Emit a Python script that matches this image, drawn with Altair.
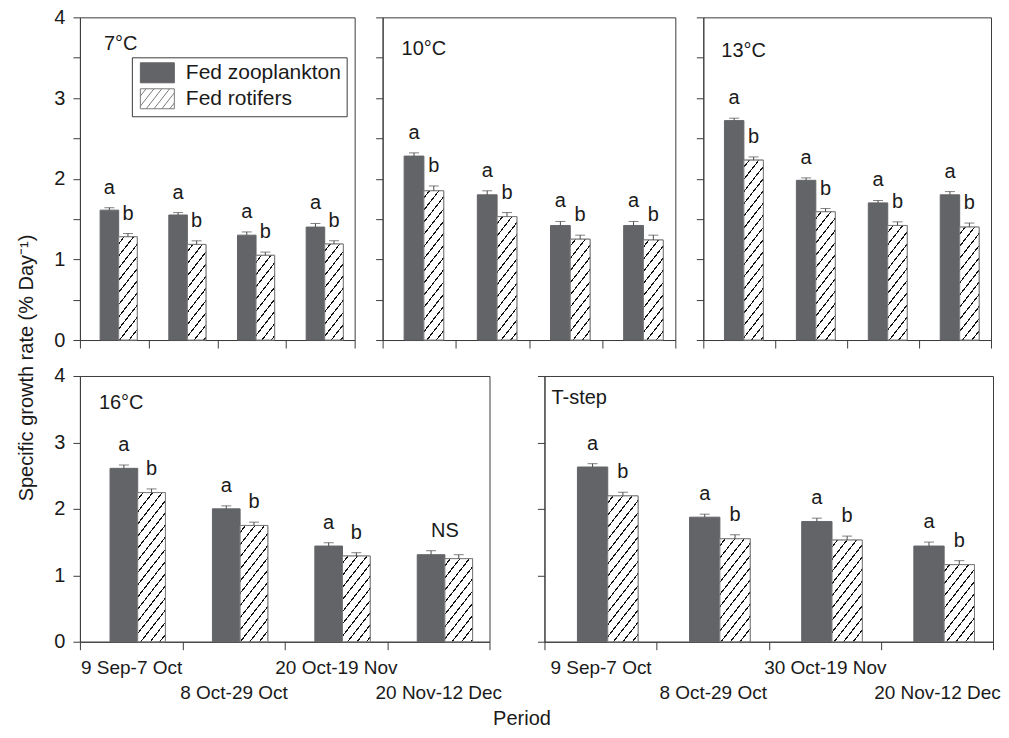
import math
import json
import altair as alt
import pandas as pd

# ---------------- data ----------------
series = ["Fed zooplankton", "Fed rotifers"]
periods_const = ["9 Sep-7 Oct", "8 Oct-29 Oct", "20 Oct-19 Nov", "20 Nov-12 Dec"]
periods_step = ["9 Sep-7 Oct", "8 Oct-29 Oct", "30 Oct-19 Nov", "20 Nov-12 Dec"]

zoo_7 = [1.61, 1.55, 1.30, 1.40]
zoo_7_se = [0.03, 0.03, 0.04, 0.045]
rot_7 = [1.28, 1.185, 1.05, 1.19]
rot_7_se = [0.04, 0.045, 0.04, 0.04]

zoo_10 = [2.28, 1.80, 1.42, 1.42]
zoo_10_se = [0.04, 0.05, 0.05, 0.05]
rot_10 = [1.85, 1.53, 1.25, 1.24]
rot_10_se = [0.06, 0.05, 0.05, 0.06]

zoo_13 = [2.72, 1.98, 1.70, 1.80]
zoo_13_se = [0.03, 0.03, 0.03, 0.04]
rot_13 = [2.23, 1.59, 1.42, 1.40]
rot_13_se = [0.04, 0.04, 0.045, 0.05]

zoo_16 = [2.61, 2.00, 1.44, 1.31]
zoo_16_se = [0.05, 0.045, 0.05, 0.06]
rot_16 = [2.245, 1.75, 1.29, 1.25]
rot_16_se = [0.055, 0.05, 0.05, 0.06]

zoo_ts = [2.63, 1.875, 1.81, 1.44]
zoo_ts_se = [0.05, 0.045, 0.05, 0.06]
rot_ts = [2.195, 1.55, 1.53, 1.16]
rot_ts_se = [0.055, 0.06, 0.06, 0.06]

let_zoo = ["a", "a", "a", "a"]
let_rot = ["b", "b", "b", "b"]
let_zoo_16 = ["a", "a", "a", ""]
let_rot_16 = ["b", "b", "b", ""]
grp_none = ["", "", "", ""]
grp_16 = ["", "", "", "NS"]

y_ticks = [0, 0.5, 1, 1.5, 2, 2.5, 3, 3.5, 4]

# ---------------- style ----------------
FONT = "Liberation Sans"
TEXT = "#1a1a1a"
AXIS = "#3c3c3c"
DARK = "#636467"
EDGE = "#7a7a7a"
ERR = "#4a4a4a"
OUTER = 0.85
ALIGN = 0.64

# hatch gradient parameters (pixels)
THETA = math.radians(52)
NX, NY = math.sin(THETA), math.cos(THETA)
L = 300.0
PERIOD = 7.5
LW = 1.1


def hatch_stops():
    stops = [{"offset": 0, "color": "#ffffff"}]
    k = 0
    while True:
        a = (k * PERIOD + PERIOD / 2) / L
        b = a + LW / L
        if b >= 1:
            break
        stops += [
            {"offset": round(a, 5), "color": "#ffffff"},
            {"offset": round(a, 5), "color": "#111111"},
            {"offset": round(b, 5), "color": "#111111"},
            {"offset": round(b, 5), "color": "#ffffff"},
        ]
        k += 1
    stops.append({"offset": 1, "color": "#ffffff"})
    return "[" + ",".join("{offset:%s,color:'%s'}" % (s["offset"], s["color"]) for s in stops) + "]"


STOPS = hatch_stops()


def hatch_expr(w, pxu):
    A = NX * NX * w * w
    B = NY * NY * pxu * pxu
    den = f"({A}+{B}*datum.value*datum.value)"
    return (
        "{gradient:'linear',x1:0,y1:0,"
        f"x2:{L * NX * w}/{den},"
        f"y2:{L * NY * pxu}*datum.value/{den},"
        f"stops:{STOPS}}}"
    )


def legend_path():
    x0, x1, y0, y1 = -0.7, 2.7, -1.0, 1.0
    parts = [f"M{x0},{y0}H{x1}V{y1}H{x0}Z"]
    cmin = NX * x0 + NY * y0
    cmax = NX * x1 + NY * y1
    c = cmin + 0.45
    while c < cmax - 0.2:
        pts = []
        for x in (x0, x1):
            y = (c - NX * x) / NY
            if y0 - 1e-9 <= y <= y1 + 1e-9:
                pts.append((x, y))
        for y in (y0, y1):
            x = (c - NY * y) / NX
            if x0 - 1e-9 <= x <= x1 + 1e-9:
                pts.append((x, y))
        uniq = []
        for p in pts:
            if all(abs(p[0] - q[0]) > 1e-6 or abs(p[1] - q[1]) > 1e-6 for q in uniq):
                uniq.append(p)
        if len(uniq) >= 2:
            (ax, ay), (bx, by) = uniq[0], uniq[1]
            parts.append(f"M{ax:.3f},{ay:.3f}L{bx:.3f},{by:.3f}")
        c += 0.62
    return "".join(parts)


def make_panel(name, periods, zoo, zoo_se, rot, rot_se, lz, lr, grp, W, H,
               ylabels, xlabels, lab_x, lab_y, legend=False, xtitle=False):
    n = len(periods)
    df = pd.DataFrame({
        "period": periods + periods,
        "series": [series[0]] * n + [series[1]] * n,
        "value": zoo + rot,
        "se": zoo_se + rot_se,
        "letter": lz + lr,
        "group": grp + grp,
    })
    step = W / n
    barw = step / (2 + 2 * OUTER)
    pxu = H / 4.0

    second_row = json.dumps(periods[1::2])
    xaxis_kw = dict(
        tickBand="extent", tickSize=8, labels=xlabels, labelAngle=0,
        labelFontSize=19, labelBaseline="top", labelLineHeight=25,
        labelPadding=9, labelOverlap=False, labelFlush=False, labelBound=False,
        labelExpr=f"indexof({second_row}, datum.label) >= 0 ? ['', datum.label] : datum.label",
        domainColor=AXIS, tickColor=AXIS, labelColor=TEXT, grid=False,
    )
    if xtitle:
        xaxis_kw.update(title="Period", titleX=442, titleY=83, titleBaseline="alphabetic",
                        titleAlign="center", titleFontSize=20, titleFontWeight="normal",
                        titleColor=TEXT)
    else:
        xaxis_kw.update(title=None)
    yaxis_kw = dict(
        values=y_ticks, tickSize=7, labels=ylabels, labelPadding=8, labelFontSize=20,
        labelExpr="datum.value % 1 == 0 ? format(datum.value, 'd') : ''",
        domainColor=AXIS, tickColor=AXIS, labelColor=TEXT, grid=False, title=None,
    )

    xenc = alt.X("period:N", sort=periods,
                 scale=alt.Scale(domain=periods, paddingInner=0, paddingOuter=0),
                 axis=alt.Axis(**xaxis_kw))
    xoff = alt.XOffset("series:N", sort=series,
                       scale=alt.Scale(domain=series, paddingInner=0, paddingOuter=OUTER, align=ALIGN))
    yscale = alt.Scale(domain=[0, 4], nice=False)
    yenc = alt.Y("value:Q", scale=yscale, axis=alt.Axis(**yaxis_kw))

    if legend:
        leg = alt.Legend(title=None, orient="none", legendX=52, legendY=40,
                         symbolType=legend_path(), symbolSize=400, symbolStrokeWidth=1,
                         labelFontSize=21, labelColor=TEXT, labelOffset=28,
                         rowPadding=1, padding=5, strokeColor=AXIS, fillColor="white")
    else:
        leg = None

    base = alt.Chart(df).transform_calculate(hi="datum.value + datum.se")

    bars = base.mark_bar(strokeWidth=1).encode(
        x=xenc, xOffset=xoff, y=yenc,
        fill=alt.Fill("series:N", scale=alt.Scale(domain=series, range=[DARK, "#ffffff"]), legend=leg),
        stroke=alt.Stroke("series:N", scale=alt.Scale(domain=series, range=[DARK, EDGE]), legend=leg),
    )
    hatch = base.transform_filter(alt.datum.series == series[1]).mark_bar(
        stroke=EDGE, strokeWidth=1
    ).encode(
        x=xenc, xOffset=xoff, y=alt.Y("value:Q", scale=yscale),
        fill={"value": {"expr": hatch_expr(barw, pxu)}},
    )
    err = base.mark_rule(color=ERR, strokeWidth=1).encode(
        x=xenc, xOffset=xoff, y=alt.Y("value:Q", scale=yscale), y2="hi:Q",
    )
    cap = base.mark_tick(color=ERR, thickness=1, size=10, orient="horizontal").encode(
        x=xenc, xOffset=xoff, y=alt.Y("hi:Q", scale=yscale),
    )
    letters = base.transform_filter(alt.datum.letter != "").mark_text(
        font=FONT, fontSize=20, color=TEXT, baseline="alphabetic", dy=-14
    ).encode(
        x=xenc, xOffset=xoff, y=alt.Y("hi:Q", scale=yscale), text="letter:N",
    )
    ns = base.transform_joinaggregate(top="max(hi)", groupby=["period"]).transform_filter(
        (alt.datum.series == series[0]) & (alt.datum.group != "")
    ).mark_text(
        font=FONT, fontSize=20, color=TEXT, baseline="alphabetic", dy=-14, xOffset=0.064 * step
    ).encode(
        x=xenc, y=alt.Y("top:Q", scale=yscale), text="group:N",
    )
    label = alt.Chart(pd.DataFrame({"name": [name]})).mark_text(
        font=FONT, fontSize=20, color=TEXT, align="left", baseline="alphabetic"
    ).encode(x=alt.value(lab_x), y=alt.value(lab_y), text="name:N")

    return alt.layer(bars, hatch, err, cap, letters, ns, label).properties(width=W, height=H)


p7 = make_panel("7°C", periods_const, zoo_7, zoo_7_se, rot_7, rot_7_se, let_zoo, let_rot, grp_none,
                275, 323, True, False, 24, 33, legend=True)
p10 = make_panel("10°C", periods_const, zoo_10, zoo_10_se, rot_10, rot_10_se, let_zoo, let_rot, grp_none,
                 293, 323, False, False, 19, 38)
p13 = make_panel("13°C", periods_const, zoo_13, zoo_13_se, rot_13, rot_13_se, let_zoo, let_rot, grp_none,
                 288, 323, False, False, 18, 40)
p16 = make_panel("16°C", periods_const, zoo_16, zoo_16_se, rot_16, rot_16_se, let_zoo_16, let_rot_16, grp_16,
                 410, 266, True, True, 19, 33, xtitle=True)
pts = make_panel("T-step", periods_step, zoo_ts, zoo_ts_se, rot_ts, rot_ts_se, let_zoo, let_rot, grp_none,
                 449, 266, False, True, 7, 28)

res = dict(fill="independent", stroke="independent", x="independent", y="independent", xOffset="independent")
top = alt.hconcat(p7, p10, p13, spacing=28, bounds="flush").resolve_scale(**res)
bottom = alt.hconcat(p16, pts, spacing=55, bounds="flush").resolve_scale(**res)

chart = alt.vconcat(top, bottom, spacing=14).resolve_scale(**res).properties(
    padding={"left": 9, "top": -2, "right": 0, "bottom": 0},
    title=alt.TitleParams("Specific growth rate (% Day\u207b\u00b9)", orient="left", anchor="middle",
                          fontSize=20, fontWeight="normal", color=TEXT, font=FONT, offset=16),
).configure(
    font=FONT,
).configure_view(
    stroke=AXIS, strokeWidth=1
).configure_axis(
    domainWidth=1, tickWidth=1, labelFont=FONT, titleFont=FONT
).configure_legend(
    labelFont=FONT
)

chart.save("out.html", embed_options={"renderer": "svg", "actions": False})
